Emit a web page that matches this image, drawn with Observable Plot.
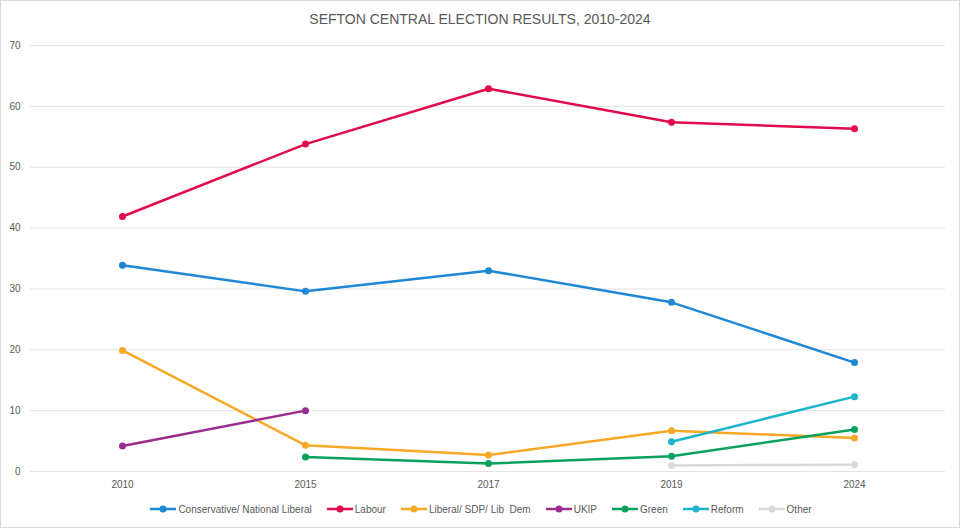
<!DOCTYPE html>
<html>
<head>
<meta charset="utf-8">
<script src="https://cdn.jsdelivr.net/npm/d3@7"></script>
<script src="https://cdn.jsdelivr.net/npm/@observablehq/plot@0.6"></script>
<style>
  body { margin: 0; background: #fff; font-family: "Liberation Sans", Arial, sans-serif; }
  #wrap { position: relative; width: 960px; height: 528px; overflow: hidden; }
  #frame { position: absolute; left: 0; top: 0; width: 958px; height: 526px; border: 1px solid #d9d9d9; pointer-events: none; }
  #title { height: 30px; line-height: 38px; text-align: center; font-size: 14px; color: #595959; font-family: "Liberation Sans", Arial, sans-serif; }
  #legend { height: 28px; display: flex; justify-content: center; align-items: center; gap: 15px; font-size: 10px; color: #595959; padding-bottom: 10px; box-sizing: border-box; margin-left: 2px; }
  .item { display: flex; align-items: center; gap: 2px; }
  svg.plot text { fill: #595959; }
</style>
</head>
<body>
<div id="wrap">
  <div id="title">SEFTON CENTRAL ELECTION RESULTS, 2010-2024</div>
  <div id="chart"></div>
  <div id="legend"></div>
  <div id="frame"></div>
</div>
<script>
const years = ["2010", "2015", "2017", "2019", "2024"];
const seriesNames = ["Conservative/ National Liberal", "Labour", "Liberal/ SDP/ Lib  Dem", "UKIP", "Green", "Reform", "Other"];
const seriesColors = ["#1E88D6", "#E00B4C", "#F9A825", "#9B2C8E", "#07A35C", "#1DB4CC", "#D9D9D9"];
const conservative = [33.9, 29.6, 33.0, 27.8, 17.9];
const labour = [41.9, 53.8, 62.9, 57.4, 56.3];
const libDem = [19.9, 4.3, 2.7, 6.7, 5.5];
const ukip = [4.2, 10.0, null, null, null];
const green = [null, 2.4, 1.3, 2.5, 6.9];
const reform = [null, null, null, 4.9, 12.3];
const other = [null, null, null, 1.0, 1.1];
const yTicks = [0, 10, 20, 30, 40, 50, 60, 70];

const seriesValues = [conservative, labour, libDem, ukip, green, reform, other];
const data = [];
seriesNames.forEach((name, i) => {
  seriesValues[i].forEach((v, j) => {
    if (v != null) data.push({series: name, year: years[j], value: v});
  });
});

const chart = Plot.plot({
  width: 960,
  height: 470,
  marginTop: 15,
  marginBottom: 29,
  marginLeft: 30,
  marginRight: 15,
  style: {fontFamily: "Liberation Sans, Arial, sans-serif", fontSize: "10px", color: "#595959", background: "transparent"},
  x: {type: "point", domain: years, padding: 0.5, label: null, tickSize: 0, tickPadding: 9},
  y: {domain: [0, 70], ticks: yTicks, label: null, tickSize: 0, tickPadding: 10},
  color: {domain: seriesNames, range: seriesColors},
  marks: [
    Plot.gridY(yTicks, {stroke: "#e3e3e3", strokeOpacity: 1, strokeWidth: 1}),
    Plot.axisY({ticks: yTicks, tickSize: 0, tickPadding: 10, label: null}),
    Plot.axisX({tickSize: 0, tickPadding: 9, label: null}),
    Plot.line(data, {x: "year", y: "value", z: "series", stroke: "series", strokeWidth: 2.5}),
    Plot.dot(data, {x: "year", y: "value", fill: "series", r: 3.5})
  ]
});
document.getElementById("chart").appendChild(chart);

const legend = document.getElementById("legend");
seriesNames.forEach((name, i) => {
  const item = document.createElement("div");
  item.className = "item";
  item.innerHTML = `<svg width="26" height="10"><line x1="0" y1="5" x2="26" y2="5" stroke="${seriesColors[i]}" stroke-width="2.5"/><circle cx="13" cy="5" r="3.5" fill="${seriesColors[i]}"/></svg><span style="white-space:pre">${name}</span>`;
  legend.appendChild(item);
});
</script>
</body>
</html>
